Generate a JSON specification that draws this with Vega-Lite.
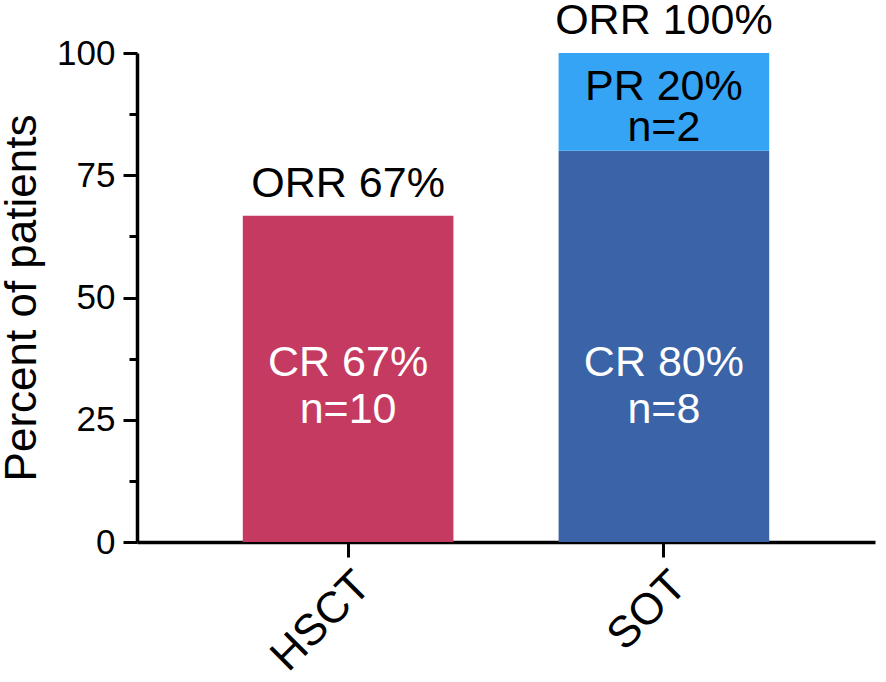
{
  "$schema": "https://vega.github.io/schema/vega-lite/v6.json",
  "autosize": "none",
  "padding": {"left": 137, "top": 53, "right": 11, "bottom": 140},
  "width": 738,
  "height": 489,
  "background": "white",
  "config": {
    "view": {"stroke": null},
    "font": "Liberation Sans",
    "axis": {"domainColor": "black", "tickColor": "black", "labelColor": "black", "titleColor": "black", "grid": false}
  },
  "datasets": {
    "bars": [
      {"group": "HSCT", "resp": "CR", "segment": "HSCT CR", "lo": 0, "hi": 66.7, "label": "CR 67%\nn=10"},
      {"group": "SOT", "resp": "CR", "segment": "SOT CR", "lo": 0, "hi": 80, "label": "CR 80%\nn=8"},
      {"group": "SOT", "resp": "PR", "segment": "SOT PR", "lo": 80, "hi": 100, "label": "PR 20%\nn=2"}
    ],
    "orr": [
      {"group": "HSCT", "orr": 66.7, "label": "ORR 67%"},
      {"group": "SOT", "orr": 100, "label": "ORR 100%"}
    ]
  },
  "encoding": {
    "x": {
      "field": "group",
      "type": "nominal",
      "sort": ["HSCT", "SOT"],
      "scale": {"paddingInner": 0.333, "paddingOuter": 0.335},
      "axis": {
        "title": null,
        "domainWidth": 3.5,
        "tickWidth": 3,
        "tickSize": 15,
        "labelAngle": -45,
        "labelAlign": "right",
        "labelBaseline": "top",
        "labelFontSize": 44,
        "labelPadding": 6
      }
    }
  },
  "layer": [
    {
      "data": {"name": "bars"},
      "mark": {"type": "bar"},
      "encoding": {
        "y": {
          "field": "lo",
          "type": "quantitative",
          "scale": {"domain": [0, 100], "nice": false},
          "axis": {
            "title": "Percent of patients",
            "titleFontSize": 44,
            "titleFontWeight": "normal",
            "titlePadding": 12,
            "values": [0, 12.5, 25, 37.5, 50, 62.5, 75, 87.5, 100],
            "labelExpr": "datum.value % 25 === 0 ? datum.label : ''",
            "labelFontSize": 35,
            "labelPadding": 8,
            "domainWidth": 3.5,
            "tickWidth": 3,
            "tickSize": {"condition": {"test": "datum.value % 25 === 0", "value": 14}, "value": 8}
          }
        },
        "y2": {"field": "hi"},
        "color": {
          "field": "segment",
          "type": "nominal",
          "scale": {"domain": ["HSCT CR", "SOT CR", "SOT PR"], "range": ["#C43A61", "#3A63A8", "#36A4F4"]},
          "legend": null
        }
      }
    },
    {
      "data": {"name": "bars"},
      "transform": [{"filter": "datum.resp === 'CR'"}],
      "mark": {"type": "text", "fontSize": 43, "lineBreak": "\n", "lineHeight": 47, "baseline": "middle", "color": "white"},
      "encoding": {
        "y": {"datum": 36.6, "type": "quantitative"},
        "text": {"field": "label"}
      }
    },
    {
      "data": {"name": "bars"},
      "transform": [{"filter": "datum.resp === 'PR'"}],
      "mark": {"type": "text", "fontSize": 43, "lineBreak": "\n", "lineHeight": 41, "baseline": "middle", "color": "black"},
      "encoding": {
        "y": {"datum": 93, "type": "quantitative"},
        "text": {"field": "label"}
      }
    },
    {
      "data": {"name": "orr"},
      "mark": {"type": "text", "fontSize": 43, "baseline": "alphabetic", "dy": -19, "color": "black"},
      "encoding": {
        "y": {"field": "orr", "type": "quantitative"},
        "text": {"field": "label"}
      }
    }
  ]
}
